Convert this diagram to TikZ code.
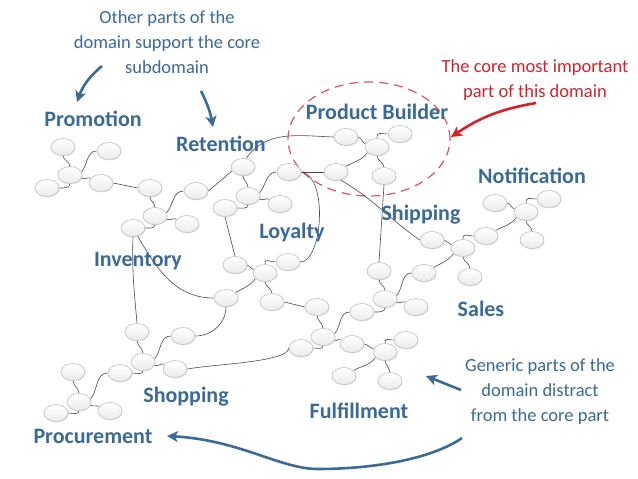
\documentclass[tikz,border=0pt]{standalone}
\usepackage{fontspec}
\setmainfont{Carlito}
\usetikzlibrary{shapes.geometric,arrows.meta,shadows}
\definecolor{lblue}{HTML}{3B6A98}
\definecolor{cred}{HTML}{D2232B}
\definecolor{dred}{HTML}{D9545B}
\definecolor{edgec}{HTML}{4A4A4A}
\pgfdeclarelayer{bg}
\pgfsetlayers{bg,main}
\tikzset{
  bub/.style={ellipse, minimum width=24pt, minimum height=17pt, inner sep=0pt,
    draw=gray!50, line width=0.6pt, top color=white, bottom color=gray!16,
    drop shadow={shadow xshift=0.6pt, shadow yshift=-0.9pt, opacity=0.2, fill=gray}},
  lnk/.style={draw=edgec, line width=0.6pt},
  lbl/.style={text=lblue, font=\fontsize{22}{24}\selectfont\bfseries, inner sep=0pt, anchor=base},
  note/.style={text=lblue, font=\fontsize{18.5}{25}\selectfont, align=center, inner sep=0pt, anchor=base},
  rnote/.style={note, text=cred},
  barrow/.style={draw=lblue, line width=2.6pt, -{Stealth[length=11pt,width=11pt,inset=3pt]}},
  rarrow/.style={draw=cred, line width=2.6pt, -{Stealth[length=11pt,width=11pt,inset=3pt]}},
  coreline/.style={draw=dred, line width=1.2pt, dash pattern=on 9pt off 6pt}
}
\newcommand\stdclus[5]{%
  \draw[lnk] (#1.north) to[out=95,in=-85] (#2.south);
  \draw[lnk] (#1.15) to[out=50,in=180] (#3.west);
  \draw[lnk] (#1.south) to[out=-90,in=0] (#4.east);
  \draw[lnk] (#1.-15) to[out=-35,in=155] (#5.155);}
\newcommand\rotclus[5]{%
  \draw[lnk] (#2.east) to[out=-10,in=165] (#1.165);
  \draw[lnk] (#1.north) to[out=90,in=180,looseness=1.6] (#3.west);
  \draw[lnk] (#1.-150) to[out=-125,in=30] (#4.30);
  \draw[lnk] (#1.south) to[out=-85,in=95] (#5.north);}
\begin{document}
\begin{tikzpicture}[x=1pt,y=1pt]
\useasboundingbox (0,0) rectangle (638,-479);
% bubbles
\node[bub] (a1) at (63,-147) {};
\node[bub] (a2) at (109,-151) {};
\node[bub] (a3) at (70,-175) {};
\node[bub] (a4) at (47,-188) {};
\node[bub] (a5) at (101,-183) {};
\node[bub] (b1) at (150,-188) {};
\node[bub] (b2) at (196,-191) {};
\node[bub] (b3) at (155,-216) {};
\node[bub] (b4) at (133,-228) {};
\node[bub] (b5) at (187,-224) {};
\node[bub] (c1) at (243,-167) {};
\node[bub] (c2) at (289,-172) {};
\node[bub] (c3) at (248,-196) {};
\node[bub] (c4) at (225,-208) {};
\node[bub] (c5) at (280,-204) {};
\node[bub] (d1) at (346,-137) {};
\node[bub] (d2) at (400,-134) {};
\node[bub] (d3) at (377,-147) {};
\node[bub] (d4) at (336,-172) {};
\node[bub] (d5) at (384,-176) {};
\node[bub] (e1) at (235,-265) {};
\node[bub] (e2) at (288,-262) {};
\node[bub] (e3) at (265,-273) {};
\node[bub] (e4) at (226,-298) {};
\node[bub] (e5) at (272,-302) {};
\node[bub] (f1) at (317,-307) {};
\node[bub] (f2) at (362,-312) {};
\node[bub] (f3) at (323,-337) {};
\node[bub] (f4) at (301,-348) {};
\node[bub] (f5) at (352,-344) {};
\node[bub] (g2) at (406,-340) {};
\node[bub] (g3) at (385,-352) {};
\node[bub] (g4) at (344,-376) {};
\node[bub] (g5) at (390,-381) {};
\node[bub] (h1) at (379,-271) {};
\node[bub] (h2) at (424,-273) {};
\node[bub] (h3) at (385,-299) {};
\node[bub] (h5) at (416,-307) {};
\node[bub] (i1) at (432,-240) {};
\node[bub] (i2) at (486,-236) {};
\node[bub] (i3) at (463,-248) {};
\node[bub] (i5) at (470,-277) {};
\node[bub] (j1) at (495,-203) {};
\node[bub] (j2) at (549,-199) {};
\node[bub] (j3) at (526,-212) {};
\node[bub] (j5) at (532,-240) {};
\node[bub] (k1) at (137,-332) {};
\node[bub] (k2) at (183,-336) {};
\node[bub] (k3) at (143,-362) {};
\node[bub] (k4) at (120,-373) {};
\node[bub] (k5) at (175,-369) {};
\node[bub] (l1) at (73,-372) {};
\node[bub] (l3) at (79,-402) {};
\node[bub] (l4) at (56,-413) {};
\node[bub] (l5) at (110,-411) {};
\begin{pgfonlayer}{bg}
\fill[white] (0,0) rectangle (638,-479);
\draw[coreline] (369,-139) ellipse [x radius=81, y radius=57];
\stdclus{a3}{a1}{a2}{a4}{a5}
\stdclus{b3}{b1}{b2}{b4}{b5}
\stdclus{c3}{c1}{c2}{c4}{c5}
\rotclus{d3}{d1}{d2}{d4}{d5}
\rotclus{e3}{e1}{e2}{e4}{e5}
\stdclus{f3}{f1}{f2}{f4}{f5}
\rotclus{g3}{f5}{g2}{g4}{g5}
\stdclus{h3}{h1}{h2}{f2}{h5}
\rotclus{i3}{i1}{i2}{h2}{i5}
\rotclus{j3}{j1}{j2}{i2}{j5}
\stdclus{k3}{k1}{k2}{k4}{k5}
\stdclus{l3}{l1}{k4}{l4}{l5}
\draw[lnk] (a5.east) -- (b1.west);
\draw[lnk] (b2.east) -- (c1.200);
\draw[lnk] (c1.70) to[out=55,in=178] (d1.west);
\draw[lnk] (c2.east) -- (d4.west);
\draw[lnk] (c2.east) to[out=-10,in=0,out distance=28pt,in distance=22pt] (e2.east);
\draw[lnk] (c4.south) -- (e1.north);
\draw[lnk] (b4.south) to[out=-92,in=95] (k1.north);
\draw[lnk] (b4.-60) to[out=-60,in=180] (e4.west);
\draw[lnk] (k2.east) to[out=0,in=-90] (e4.south);
\draw[lnk] (k5.east) to[out=10,in=-90,out distance=30pt,in distance=14pt] (f4.west);
\draw[lnk] (e5.east) -- (f1.west);
\draw[lnk] (d5.south) -- (h1.north);
\draw[lnk] (d4.-60) to[out=-30,in=145] (i1.west);
\end{pgfonlayer}
% labels
\node[lbl] (tPromo) at (93,-126) {Promotion};
\node[lbl] (tRet) at (221,-151) {Retention};
\node[lbl] (tPB) at (377,-119) {Product Builder};
\node[lbl] (tNot) at (532,-183) {Notification};
\node[lbl] (tShip) at (421,-220) {Shipping};
\node[lbl] (tLoy) at (292,-238) {Loyalty};
\node[lbl] (tInv) at (138,-266) {Inventory};
\node[lbl] (tSales) at (481,-316) {Sales};
\node[lbl] (tShop) at (186,-402) {Shopping};
\node[lbl] (tFul) at (359,-418) {Fulfillment};
\node[lbl] (tProc) at (93,-443) {Procurement};
% notes (base anchor = last line)
\node[note] (nOther) at (167,-73) {Other parts of the\\domain support the core\\subdomain};
\node[rnote] (nCore) at (535,-97) {The core most important\\part of this domain};
\node[note] (nGen) at (540,-421) {Generic parts of the\\domain distract\\from the core part};
% arrows
\coordinate (ar1s) at (102,-66);
\coordinate (ar1e) at (77,-102);
\coordinate (ar2s) at (201,-91);
\coordinate (ar2e) at (213,-127);
\coordinate (ar3s) at (536,-103);
\coordinate (ar3e) at (451,-137);
\coordinate (ar4s) at (461,-390);
\coordinate (ar4e) at (426,-376);
\coordinate (ar5s) at (462,-438);
\coordinate (ar5m) at (318,-469);
\coordinate (ar5e) at (167,-436);
\draw[barrow] (ar1s) to[bend right=15] (ar1e);
\draw[barrow] (ar2s) to[bend left=8] (ar2e);
\draw[rarrow] (ar3s) to[bend right=12] (ar3e);
\draw[barrow] (ar4s) -- (ar4e);
\draw[barrow] (ar5s) .. controls (430,-460) and (370,-469) .. (ar5m)
   .. controls (280,-469) and (240,-440) .. (ar5e);
\end{tikzpicture}
\end{document}
